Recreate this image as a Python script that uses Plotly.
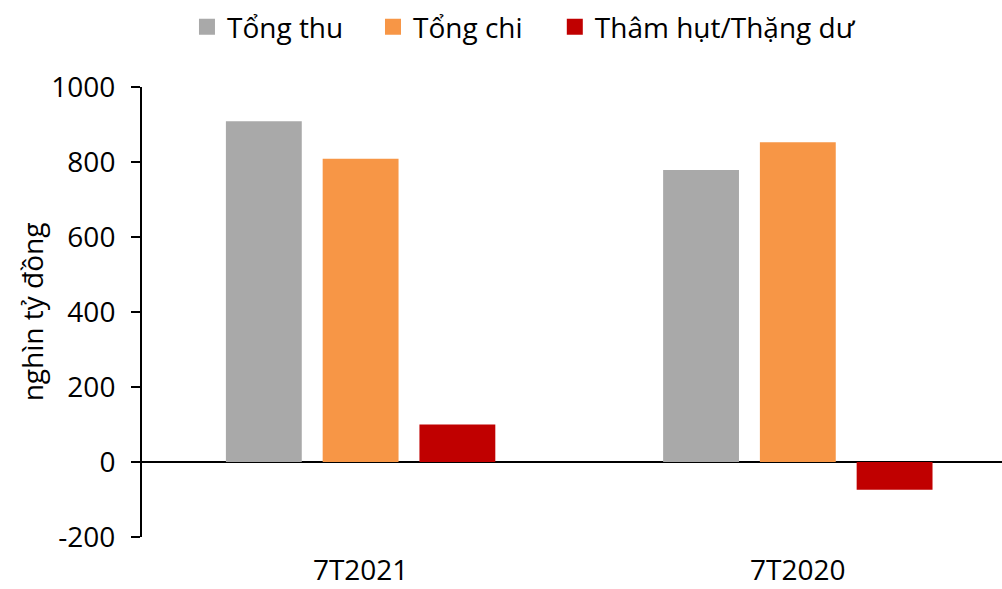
import plotly.graph_objects as go

# Budget totals for the first seven months of each year (nghìn tỷ đồng)
periods = ["7T2021", "7T2020"]
tong_thu = [909, 779]
tong_chi = [809, 853]
tham_hut = [100, -74]

series_names = ["Tổng thu", "Tổng chi", "Thâm hụt/Thặng dư"]
series_values = [tong_thu, tong_chi, tham_hut]
series_colors = ["#A9A9A9", "#F79646", "#C00000"]

y_ticks = [-200, 0, 200, 400, 600, 800, 1000]
y_tick_text = ["-200", "0", "200", "400", "600", "800", "1000"]

FONT = "Open Sans"

# one legend box per series so each entry sits at its own spot
legend_ids = ["legend", "legend2", "legend3"]
legend_x = [0.0523, 0.2686, 0.480]

fig = go.Figure()
for name, vals, color in zip(series_names, series_values, series_colors):
    fig.add_trace(go.Bar(
        x=periods, y=vals, name=name, marker_color=color,
        marker_line_width=0, showlegend=False,
    ))
# Legend entries drawn as larger square swatches
for name, color, lid in zip(series_names, series_colors, legend_ids):
    fig.add_trace(go.Scatter(
        x=[None], y=[None], mode="markers", name=name, legend=lid,
        marker=dict(symbol="square", size=17, color=color),
    ))

legend_style = dict(
    orientation="h", xanchor="left", y=1.133, yanchor="middle",
    font=dict(size=28), itemsizing="trace", bgcolor="rgba(0,0,0,0)",
)

fig.update_layout(
    width=1002, height=589,
    margin=dict(l=142, r=0, t=87, b=52),
    paper_bgcolor="white", plot_bgcolor="white",
    barmode="group", bargap=0.336, bargroupgap=0.216,
    font=dict(family=FONT, size=28, color="black"),
    xaxis=dict(
        type="category", range=[-0.5, 1.467], showline=False, showgrid=False,
        ticks="", ticklabelstandoff=14, automargin=False, zeroline=False,
        tickfont=dict(size=28),
    ),
    yaxis=dict(
        range=[-200, 1000], tickvals=y_ticks, ticktext=y_tick_text,
        showgrid=False, showline=True, linecolor="black", linewidth=2,
        ticks="outside", ticklen=9, tickwidth=2, tickcolor="black",
        ticklabelstandoff=10,
        zeroline=True, zerolinecolor="black", zerolinewidth=2,
        automargin=False, tickfont=dict(size=28),
        title=dict(text="nghìn tỷ đồng", font=dict(size=28), standoff=0),
    ),
)
for lid, lx in zip(legend_ids, legend_x):
    fig.update_layout({lid: dict(legend_style, x=lx)})

fig.write_html("out.html")
